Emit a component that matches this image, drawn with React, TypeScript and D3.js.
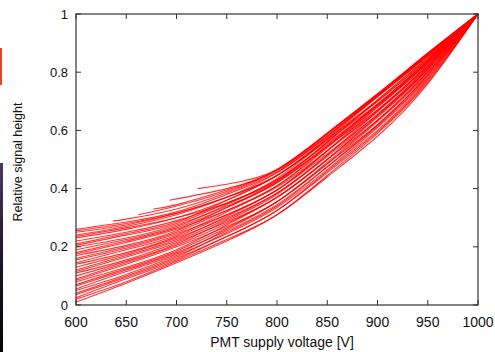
import * as d3 from 'd3';

// Relative signal height vs. PMT supply voltage, one curve per tube
const voltages = [600, 650, 700, 750, 800, 850, 900, 950, 1000];

const fullCurves: number[][] = [
  [0.01, 0.075, 0.145, 0.22, 0.31, 0.445, 0.59, 0.765, 1],
  [0.02, 0.08, 0.15, 0.225, 0.31, 0.44, 0.58, 0.76, 1],
  [0.025, 0.09, 0.155, 0.235, 0.325, 0.46, 0.6, 0.775, 1],
  [0.035, 0.095, 0.16, 0.235, 0.325, 0.455, 0.595, 0.77, 1],
  [0.04, 0.1, 0.165, 0.25, 0.34, 0.475, 0.62, 0.79, 1],
  [0.05, 0.105, 0.17, 0.245, 0.335, 0.465, 0.61, 0.78, 1],
  [0.055, 0.115, 0.175, 0.26, 0.355, 0.49, 0.635, 0.8, 1],
  [0.065, 0.12, 0.18, 0.255, 0.345, 0.475, 0.615, 0.785, 1],
  [0.07, 0.125, 0.185, 0.265, 0.355, 0.485, 0.63, 0.795, 1],
  [0.08, 0.13, 0.19, 0.275, 0.37, 0.5, 0.65, 0.81, 1],
  [0.085, 0.14, 0.2, 0.27, 0.355, 0.485, 0.62, 0.79, 1],
  [0.09, 0.145, 0.205, 0.28, 0.37, 0.5, 0.645, 0.805, 1],
  [0.1, 0.15, 0.21, 0.29, 0.38, 0.515, 0.665, 0.82, 1],
  [0.11, 0.155, 0.215, 0.285, 0.37, 0.5, 0.635, 0.8, 1],
  [0.115, 0.165, 0.22, 0.295, 0.385, 0.515, 0.655, 0.815, 1],
  [0.12, 0.17, 0.225, 0.305, 0.395, 0.53, 0.68, 0.83, 1],
  [0.13, 0.175, 0.23, 0.3, 0.385, 0.51, 0.65, 0.81, 1],
  [0.14, 0.18, 0.235, 0.31, 0.395, 0.53, 0.67, 0.825, 1],
  [0.145, 0.19, 0.24, 0.32, 0.41, 0.545, 0.69, 0.84, 1],
  [0.155, 0.195, 0.245, 0.31, 0.395, 0.52, 0.655, 0.815, 1],
  [0.16, 0.2, 0.25, 0.325, 0.41, 0.54, 0.685, 0.835, 1],
  [0.17, 0.205, 0.255, 0.335, 0.425, 0.56, 0.705, 0.85, 1],
  [0.175, 0.215, 0.26, 0.325, 0.405, 0.53, 0.665, 0.82, 1],
  [0.18, 0.22, 0.265, 0.335, 0.42, 0.55, 0.69, 0.84, 1],
  [0.19, 0.225, 0.27, 0.345, 0.435, 0.57, 0.715, 0.855, 1],
  [0.2, 0.23, 0.275, 0.34, 0.42, 0.545, 0.68, 0.83, 1],
  [0.205, 0.24, 0.28, 0.35, 0.43, 0.56, 0.7, 0.845, 1],
  [0.21, 0.245, 0.285, 0.36, 0.445, 0.575, 0.72, 0.86, 1],
  [0.22, 0.25, 0.29, 0.35, 0.43, 0.555, 0.685, 0.835, 1],
  [0.23, 0.26, 0.3, 0.36, 0.445, 0.57, 0.705, 0.85, 1],
  [0.235, 0.265, 0.3, 0.35, 0.425, 0.545, 0.67, 0.825, 1],
  [0.24, 0.27, 0.31, 0.37, 0.455, 0.58, 0.72, 0.86, 1],
  [0.25, 0.275, 0.315, 0.37, 0.445, 0.57, 0.7, 0.845, 1],
  [0.255, 0.28, 0.315, 0.37, 0.445, 0.565, 0.69, 0.84, 1],
  [0.26, 0.285, 0.32, 0.38, 0.455, 0.58, 0.715, 0.855, 1],
];

// curves whose scan started above 600 V
const lateStartVoltages = [637, 662, 677, 693, 721];
const lateStartHeights = [0.29, 0.31, 0.33, 0.36, 0.4];
const lateCurves: (number | null)[][] = [
  [null, 0.295, 0.33, 0.385, 0.46, 0.585, 0.72, 0.86, 1],
  [null, null, 0.34, 0.39, 0.465, 0.59, 0.725, 0.865, 1],
  [null, null, 0.345, 0.395, 0.465, 0.59, 0.725, 0.865, 1],
  [null, null, null, 0.4, 0.465, 0.59, 0.72, 0.86, 1],
  [null, null, null, 0.415, 0.465, 0.59, 0.725, 0.865, 1],
];

const xTicks = [600, 650, 700, 750, 800, 850, 900, 950, 1000];
const yTicks = [0, 0.2, 0.4, 0.6, 0.8, 1];

const W = 495;
const H = 352;
const left = 76;
const right = 478;
const top = 14;
const bottom = 305;
const tickLen = 5;
const font = 'Liberation Sans, Arial, Helvetica, sans-serif';

export default function App() {
  const x = d3.scaleLinear().domain([600, 1000]).range([left, right]);
  const y = d3.scaleLinear().domain([0, 1]).range([bottom, top]);

  const line = d3
    .line<[number, number]>()
    .x(d => x(d[0]))
    .y(d => y(d[1]))
    .curve(d3.curveNatural);

  const series: [number, number][][] = [
    ...fullCurves.map(vals => vals.map((v, i) => [voltages[i], v] as [number, number])),
    ...lateCurves.map((vals, k) => {
      const pts: [number, number][] = [[lateStartVoltages[k], lateStartHeights[k]]];
      vals.forEach((v, i) => {
        if (v !== null) pts.push([voltages[i], v]);
      });
      return pts;
    }),
  ];

  return (
    <svg
      width={W}
      height={H}
      style={{ position: 'absolute', left: 0, top: 0, background: 'white' }}
    >
      <rect x={0} y={0} width={W} height={H} fill="white" />

      {/* leftover strips at the left edge of the picture */}
      <rect x={0} y={48} width={2} height={37} fill="#e2481c" />
      <defs>
        <linearGradient id="strip" x1="0" y1="0" x2="0" y2="1">
          <stop offset="0" stopColor="#4a3a62" />
          <stop offset="0.5" stopColor="#1e1628" />
          <stop offset="1" stopColor="#050308" />
        </linearGradient>
      </defs>
      <rect x={0} y={163} width={3} height={H - 163} fill="url(#strip)" />

      <g>
        {series.map((pts, i) => (
          <path
            key={i}
            d={line(pts) || ''}
            fill="none"
            stroke="#ff0000"
            strokeWidth={1.1}
            strokeOpacity={0.8}
          />
        ))}
      </g>

      {/* frame and mirrored ticks */}
      <rect
        x={left}
        y={top}
        width={right - left}
        height={bottom - top}
        fill="none"
        stroke="#333"
        strokeWidth={1.2}
      />
      {xTicks.map(t => (
        <g key={'x' + t}>
          <line x1={x(t)} x2={x(t)} y1={bottom} y2={bottom - tickLen} stroke="#333" />
          <line x1={x(t)} x2={x(t)} y1={top} y2={top + tickLen} stroke="#333" />
          <text
            x={x(t)}
            y={327}
            textAnchor="middle"
            fontFamily={font}
            fontSize={14}
            fill="#111"
          >
            {t}
          </text>
        </g>
      ))}
      {yTicks.map(t => (
        <g key={'y' + t}>
          <line x1={left} x2={left + tickLen} y1={y(t)} y2={y(t)} stroke="#333" />
          <line x1={right} x2={right - tickLen} y1={y(t)} y2={y(t)} stroke="#333" />
          <text
            x={68}
            y={y(t)}
            dy="0.35em"
            textAnchor="end"
            fontFamily={font}
            fontSize={13}
            fill="#111"
          >
            {t}
          </text>
        </g>
      ))}

      <text
        x={282}
        y={347}
        textAnchor="middle"
        fontFamily={font}
        fontSize={14}
        fill="#111"
      >
        PMT supply voltage [V]
      </text>
      <text
        transform={`translate(22,${162}) rotate(-90)`}
        textAnchor="middle"
        fontFamily={font}
        fontSize={12.5}
        fill="#111"
      >
        Relative signal height
      </text>
    </svg>
  );
}
